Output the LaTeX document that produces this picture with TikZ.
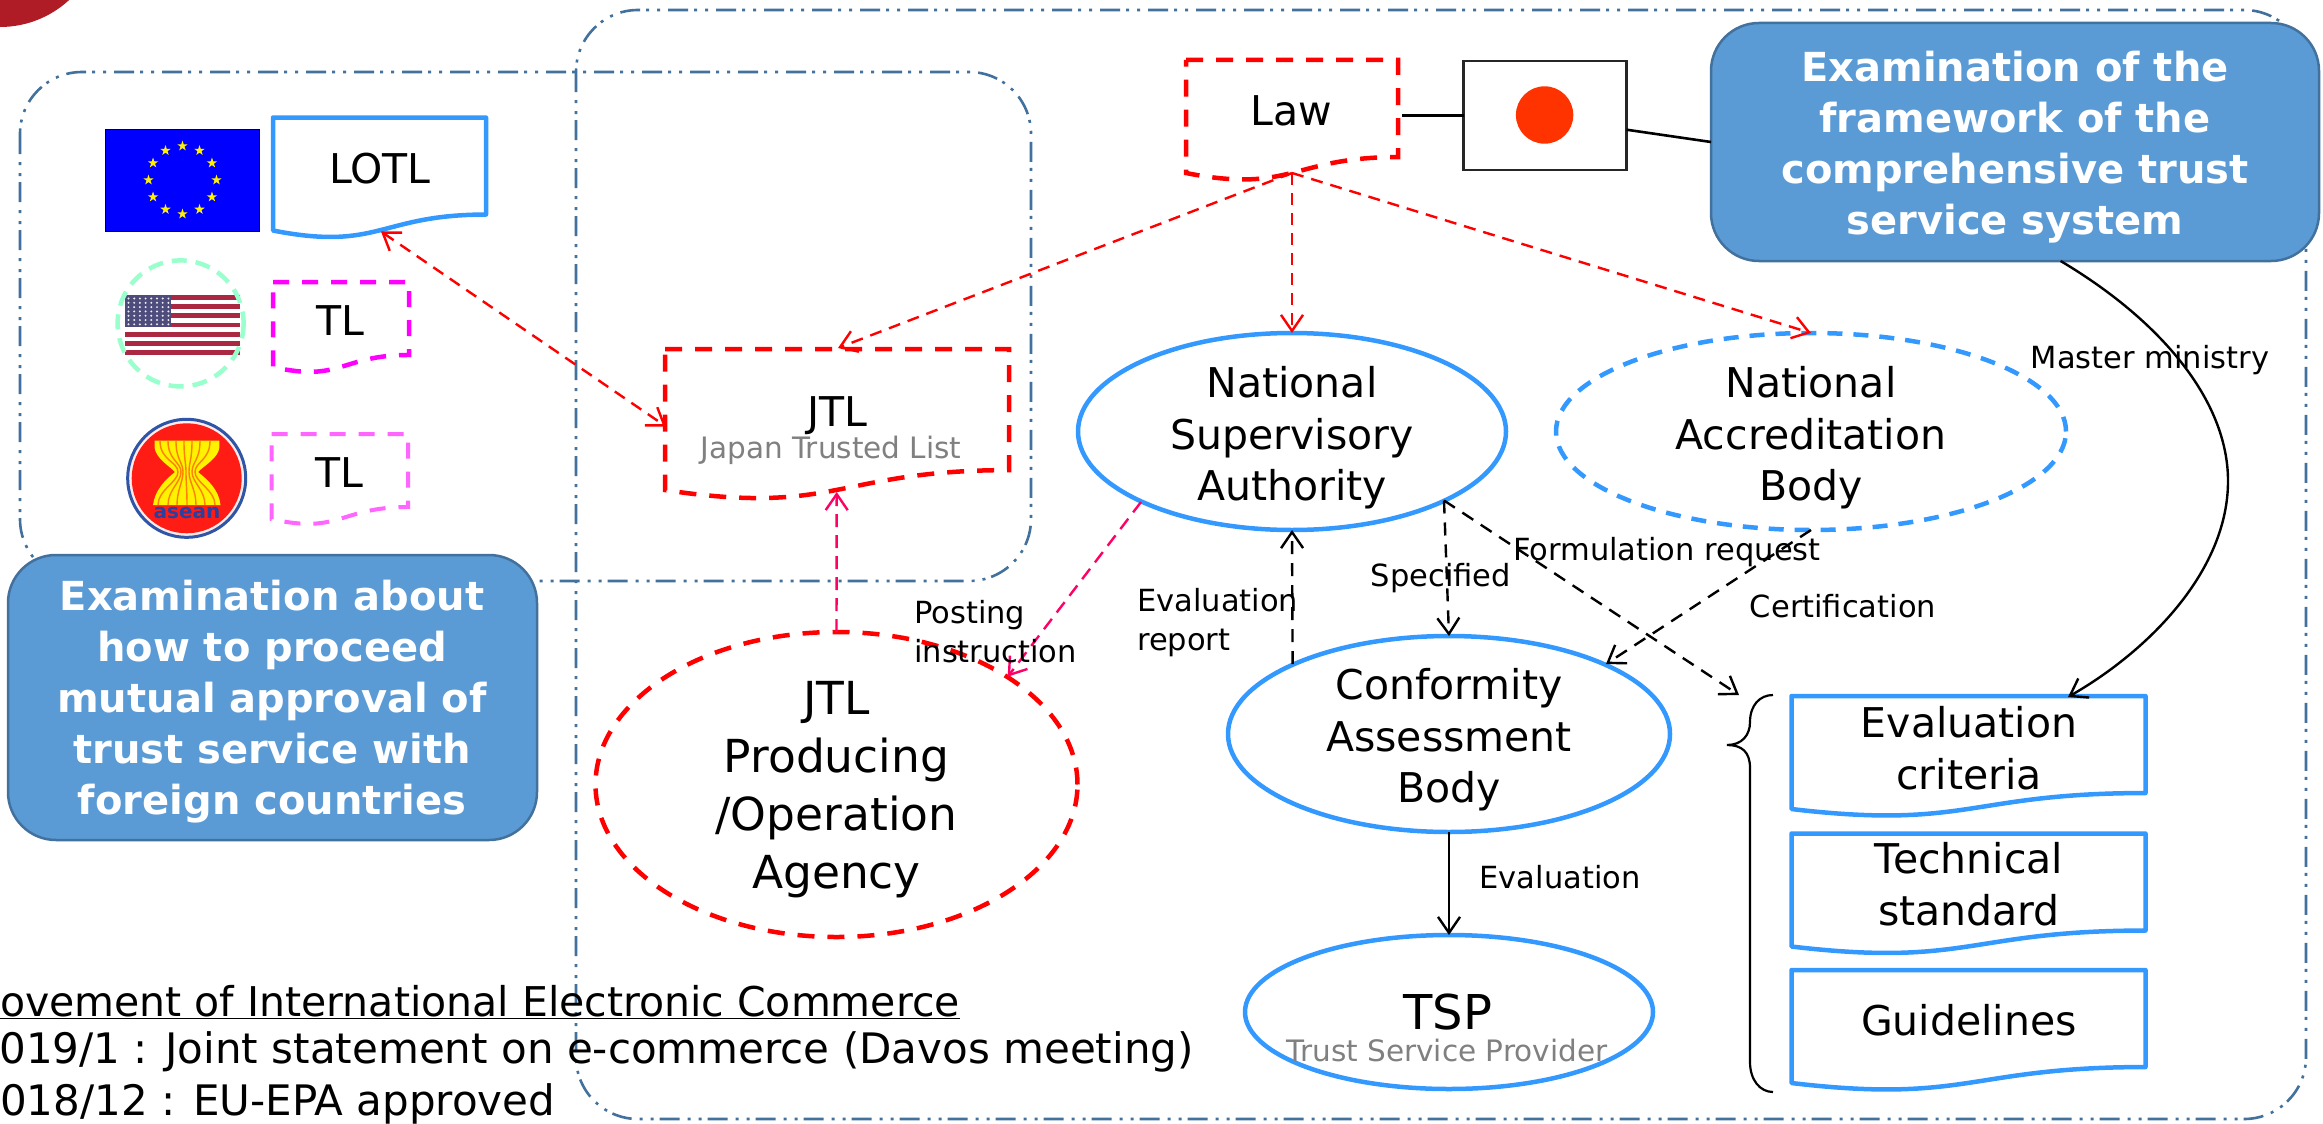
\documentclass[tikz,border=0pt]{standalone}
\usepackage{fontspec}
\setmainfont{DejaVu Sans}
\usetikzlibrary{arrows.meta,calc,shapes.geometric}
\definecolor{boxblue}{HTML}{5B9BD5}
\definecolor{boxedge}{HTML}{41719C}
\definecolor{shapeblue}{HTML}{3399FF}
\definecolor{lawred}{HTML}{FF0000}
\definecolor{pinkline}{HTML}{FF0066}
\definecolor{magA}{HTML}{FF00FF}
\definecolor{magB}{HTML}{FF66FF}
\definecolor{mint}{HTML}{99FFCC}
\tikzset{
  x=1pt,y=-1pt,
  region/.style={draw=boxedge,line width=2.6pt,rounded corners=62pt,dash pattern=on 20pt off 8pt on 3pt off 8pt on 3pt off 6pt},
  callout/.style={draw=boxedge,line width=2.5pt,fill=boxblue,rounded corners=48pt,inner sep=0pt,outer sep=0pt},
  callouttext/.style={text=white,font=\fontsize{40}{51}\selectfont\bfseries,align=center,inner sep=0pt},
  docbox/.style={rectangle,inner sep=0pt,outer sep=0pt,anchor=north west},
  solidblue/.style={draw=shapeblue,line width=4.5pt,line join=round},
  dashblue/.style={solidblue,dash pattern=on 15pt off 11pt},
  dashred/.style={draw=lawred,line width=4.5pt,dash pattern=on 17pt off 13pt},
  oval/.style={ellipse,inner sep=0pt,outer sep=0pt},
  bigtxt/.style={font=\fontsize{41}{51.5}\selectfont,align=center,inner sep=0pt},
  agencytxt/.style={font=\fontsize{45.5}{58}\selectfont,align=center,inner sep=0pt},
  lbl/.style={font=\fontsize{30.5}{39}\selectfont,align=left,inner sep=0pt},
  subtxt/.style={font=\fontsize{29.5}{34}\selectfont,text=gray,inner sep=0pt},
  newstxt/.style={font=\fontsize{42}{50}\selectfont,inner sep=0pt,anchor=east},
  tip/.style={>={Straight Barb[length=16pt,width=22pt,line width=2.4pt]}},
  thinred/.style={tip,->,draw=lawred,line width=2.4pt,dash pattern=on 12pt off 8pt},
  thinpink/.style={tip,->,draw=pinkline,line width=2.4pt,dash pattern=on 13pt off 8pt},
  thinblack/.style={tip,->,draw=black,line width=2.4pt,dash pattern=on 13pt off 9pt},
  solidblack/.style={tip,->,draw=black,line width=2.4pt},
}
\newcommand\docoutline[2]{\draw[#2] (#1.north west) -- (#1.north east) -- ($(#1.north east)!0.802!(#1.south east)$) .. controls ($(#1.north)!0.802!(#1.south)$) and ($(#1.north)!1.107!(#1.south)$) .. ($(#1.north west)!0.934!(#1.south west)$) -- cycle;}
\newcommand\starmark[3]{\fill[yellow,shift={(#1,#2)}] (-90:#3) -- (54:#3) -- (198:#3) -- (342:#3) -- (126:#3) -- cycle;}
\begin{document}
\begin{tikzpicture}
\useasboundingbox (0,0) rectangle (2323,1124);
\clip (0,0) rectangle (2323,1124);
\fill[white] (0,0) rectangle (2323,1124);
% corner mark
\fill[fill={rgb,255:red,176;green,28;blue,37}] (0,-75) circle (102);
% regions
\draw[region] (576,10) rectangle (2306,1119);
\draw[region] (20,72) rectangle (1031,581);
% EU flag
\draw[fill={rgb,255:red,0;green,0;blue,255},draw=black,line width=1pt] (105,129) rectangle (259.5,231);
\foreach \a in {0,30,...,330}{
  \pgfmathsetmacro\sx{182.5+34*cos(\a)}
  \pgfmathsetmacro\sy{180+34*sin(\a)}
  \starmark{\sx}{\sy}{5.5}
}
% US flag
\fill[white] (125,295) rectangle (240,355);
\foreach \i in {0,2,...,12}{
  \fill[fill={rgb,255:red,170;green,40;blue,65}] (125,295+\i*4.615) rectangle (240,295+\i*4.615+4.615);
}
\fill[fill={rgb,255:red,78;green,76;blue,125}] (125,295) rectangle (171,326.5);
\foreach \r in {0,...,6}{\foreach \c in {0,...,7}{
  \fill[white!85!gray] (128.5+\c*5.7,298.5+\r*4.3) circle (1.1);
}}
\draw[draw=mint,line width=4.5pt,dash pattern=on 15pt off 9pt] (180.6,323.4) circle (63);
% ASEAN emblem
\fill[white!92!red] (186.7,478.3) circle (58);
\draw[draw={rgb,255:red,47;green,86;blue,166},line width=3pt] (186.7,478.3) circle (59);
\fill[fill={rgb,255:red,255;green,28;blue,20}] (186.7,478.3) circle (55);
\fill[yellow] (154.7,440.7) -- (219.3,440.7) -- (219.3,448) .. controls (218,458) and (205,465) .. (198,472) .. controls (208,480) and (219,490) .. (220.5,505) -- (153,505) .. controls (155,490) and (165,480) .. (175,472) .. controls (168,465) and (156,458) .. (154.7,448) -- cycle;
\foreach \t/\w/\b in {160/178/158,168/181/168,176/183/177,184/186/187,192/189/196,200/192/205,210/195/215}{
  \draw[draw=orange,line width=1.4pt] (\t,441) .. controls (\t,460) and (\w,462) .. (\w,472) .. controls (\w,482) and (\b,490) .. (\b,505);
}
\node[inner sep=0pt,font=\fontsize{20}{20}\selectfont\bfseries,text={rgb,255:red,43;green,63;blue,158}] (aseanT) at (187,513) {asean};
% Japan flag
\node[rectangle,draw=black!85,line width=2.2pt,fill=white,minimum width=163pt,minimum height=109pt,inner sep=0pt,outer sep=0pt] (jpflag) at (1545,115.5) {};
\fill[fill={rgb,255:red,255;green,51;blue,0}] (1544.6,115) circle (28.7);
% documents
\node[docbox,minimum width=213pt,minimum height=121pt] (lotl) at (273,117.5) {};
\docoutline{lotl}{solidblue}
\node[bigtxt] (lotlT) at (380,169) {LOTL};
\node[docbox,minimum width=136pt,minimum height=91pt] (tlA) at (273,282) {};
\docoutline{tlA}{draw=magA,line width=4.5pt,dash pattern=on 16pt off 13pt}
\node[bigtxt] (tlAT) at (340.6,321) {TL};
\node[docbox,minimum width=136.5pt,minimum height=91pt] (tlB) at (271.5,434) {};
\docoutline{tlB}{draw=magB,line width=4pt,dash pattern=on 16pt off 13pt}
\node[bigtxt] (tlBT) at (339.5,473) {TL};
\node[docbox,minimum width=212pt,minimum height=121pt] (law) at (1186,60) {};
\docoutline{law}{dashred}
\node[bigtxt] (lawT) at (1291,111) {Law};
\node[docbox,minimum width=344pt,minimum height=151pt] (jtl) at (665,349) {};
\docoutline{jtl}{dashred}
\node[bigtxt] (jtlT) at (837,416) {JTL};
\node[subtxt] (jtlS) at (831,450) {Japan Trusted List};
\node[docbox,minimum width=354pt,minimum height=121pt] (evc) at (1791.5,696) {};
\docoutline{evc}{solidblue}
\node[bigtxt] (evcT) at (1969,748) {Evaluation\\criteria};
\node[docbox,minimum width=354pt,minimum height=121pt] (tec) at (1791.5,833.5) {};
\docoutline{tec}{solidblue}
\node[bigtxt] (tecT) at (1969,884) {Technical\\standard};
\node[docbox,minimum width=354pt,minimum height=121pt] (gui) at (1791.5,970) {};
\docoutline{gui}{solidblue}
\node[bigtxt] (guiT) at (1969,1020) {Guidelines};
% ovals
\node[oval,solidblue,minimum width=428pt,minimum height=197pt] (nsa) at (1292,431.5) {};
\node[bigtxt] (nsaT) at (1292,438) {National\\Supervisory\\Authority};
\node[oval,dashblue,minimum width=510pt,minimum height=197pt] (nab) at (1811,431.5) {};
\node[bigtxt] (nabT) at (1811,438) {National\\Accreditation\\Body};
\node[oval,dashred,minimum width=482pt,minimum height=305pt] (agency) at (836.5,784.5) {};
\node[agencytxt] (agencyT) at (836.5,790) {JTL\\Producing\\/Operation\\Agency};
\node[oval,solidblue,minimum width=442pt,minimum height=196pt] (cab) at (1449,734) {};
\node[bigtxt] (cabT) at (1449,740) {Conformity\\Assessment\\Body};
\node[oval,solidblue,minimum width=408pt,minimum height=154pt] (tsp) at (1449,1012) {};
\node[inner sep=0pt,font=\fontsize{48}{48}\selectfont] (tspT) at (1448,1012) {TSP};
\node[subtxt] (tspS) at (1447,1050) {Trust Service Provider};
% brace
\coordinate (braceTop) at (1773,695);
\coordinate (braceTip) at (1727,745);
\coordinate (braceBot) at (1773,1092);
\draw[line width=2.2pt] (braceTop) .. controls (1760,695) and (1750,705) .. (1750,722) .. controls (1750,735) and (1742,745) .. (braceTip) .. controls (1742,745) and (1750,752) .. (1750,768) -- (1750,1062) .. controls (1750,1080) and (1760,1092) .. (braceBot);
% callouts
\node[callout,rectangle,minimum width=608pt,minimum height=238pt,anchor=north west] (boxA) at (1711,23) {};
\node[callouttext] (boxAT) at (2015,147) {Examination of the\\framework of the\\comprehensive trust\\service system};
\node[callout,rectangle,minimum width=529pt,minimum height=285pt,anchor=north west] (boxB) at (8,555) {};
\node[callouttext] (boxBT) at (272,702) {Examination about\\how to proceed\\mutual approval of\\trust service with\\foreign countries};
% connector ends
\coordinate (lawTip) at (1292,173);
\coordinate (lawOut) at (1402,115.5);
\coordinate (lotlEnd) at (381,231.5);
\coordinate (jtlLeft) at (666,426.5);
\coordinate (jtlTop) at (838,348);
\coordinate (jtlBot) at (836.7,492);
\coordinate (agencyHit) at (1007.7,676.7);
\coordinate (nsaPink) at (1141,502);
\coordinate (nsaOut) at (1444,500.5);
\coordinate (cabLeft) at (1292.6,664);
\coordinate (cabRight) at (1606,664);
\coordinate (braceHead) at (1739,695);
\coordinate (flagOut) at (1626.5,129.7);
\coordinate (boxAIn) at (1711,142);
\coordinate (boxAOut) at (2060.6,261);
\coordinate (evcIn) at (2068,697);
% connectors
\draw[line width=2.6pt] (lawOut) -- (jpflag.west);
\draw[line width=2.6pt] (flagOut) -- (boxAIn);
\draw[thinred,<->] (lotlEnd) -- (jtlLeft);
\draw[thinred] (lawTip) -- (jtlTop);
\draw[thinred] (lawTip) -- (nsa.north);
\draw[thinred] (lawTip) -- (nab.north);
\draw[thinpink] (agency.north) -- (jtlBot);
\draw[thinpink] (nsaPink) -- (agencyHit);
\draw[thinblack] (cabLeft) -- (nsa.south);
\draw[thinblack] (nsaOut) -- (cab.north);
\draw[thinblack] (nsaOut) -- (braceHead);
\draw[thinblack] (nab.south) -- (cabRight);
\draw[solidblack] (cab.south) -- (tsp.north);
\draw[solidblack] (boxAOut) .. controls (2160,320) and (2228,400) .. (2228,481) .. controls (2228,570) and (2150,650) .. (evcIn);
% labels
\node[lbl,anchor=center] (mm) at (2150,360) {Master ministry};
\node[lbl,anchor=center] (cert) at (1843,606) {Certification};
\node[lbl,anchor=west] (form) at (1513,552) {Formulation request};
\node[lbl,anchor=center] (spec) at (1441,578) {Specified};
\node[lbl,anchor=west] (evrep) at (1137,623) {Evaluation\\report};
\node[lbl,anchor=west] (post) at (914,632) {Posting\\instruction};
\node[lbl,anchor=center] (evl) at (1560,877) {Evaluation};
% news text
\node[newstxt,font=\fontsize{41}{50}\selectfont] (newsA) at (960,1002) {\underline{ovement of International Electronic Commerce}};
\node[newstxt] (newsB) at (1194,1052) {019/1 : Joint statement on e-commerce (Davos meeting)};
\node[newstxt] (newsC) at (555.5,1104) {018/12 : EU-EPA approved};
\end{tikzpicture}
\end{document}
